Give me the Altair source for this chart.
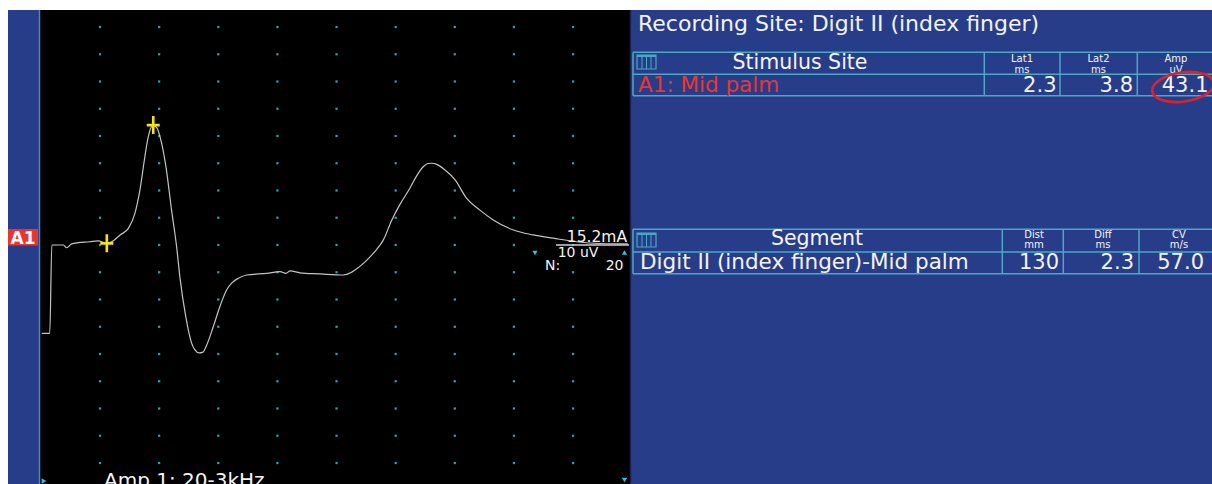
import altair as alt
import pandas as pd

# ---------------- data ----------------
# nerve action potential trace: time (ms) and amplitude (uV)
trace_t = [0.03, 0.30, 0.37, 0.76, 0.87, 1.04, 1.66, 1.93, 2.23, 2.44,
           2.68, 2.96, 3.18, 3.35, 3.50, 3.63, 3.80, 3.93, 4.03, 4.23,
           4.42, 4.59, 4.70, 4.90, 5.10, 5.21, 5.35, 5.48, 5.61, 5.83,
           6.06, 6.28, 6.46, 6.68, 6.96, 7.64, 8.09, 8.29, 8.43, 8.76,
           9.44, 10.23, 10.85, 11.19, 11.36, 11.58, 11.87, 12.15, 12.48, 12.69,
           12.93, 13.09, 13.22, 13.39, 13.67, 14.01, 14.40, 14.85, 15.30, 15.98,
           16.65, 17.33, 18.12, 18.91, 19.86]
trace_v = [-32.4, -32.4, 0.0, 0.0, -1.0, 0.4, 1.2, 1.5, 0.6, 1.5,
           3.7, 6.1, 11.6, 20.2, 31.2, 39.7, 44.0, 42.9, 39.7, 28.7,
           12.8, -0.6, -11.6, -26.3, -36.1, -38.5, -39.6, -39.3, -36.7, -30.0,
           -22.4, -16.5, -13.9, -12.2, -11.0, -10.4, -9.8, -10.4, -9.5, -10.2,
           -10.6, -11.0, -7.3, -3.7, -1.6, 1.8, 9.2, 15.0, 20.8, 25.0,
           28.7, 29.9, 30.0, 29.6, 27.5, 23.9, 17.1, 12.8, 9.2, 5.5,
           3.7, 2.5, 1.2, 0.55, 0.4]

# latency cursors (onset, peak)
cursor_t = [2.23, 3.80]
cursor_v = [0.6, 44.0]

# dotted grid: 2 ms / division, 10 uV / division
grid_t = [2, 4, 6, 8, 10, 12, 14, 16, 18]
grid_v = [-80, -70, -60, -50, -40, -30, -20, -10, 0, 10, 20, 30, 40, 50, 60, 70, 80]

title_text = "Recording Site:  Digit II (index finger)"
t1_header = ["Stimulus Site", "Lat1\nms", "Lat2\nms", "Amp\nuV"]
t1_row = ["A1: Mid palm", "2.3", "3.8", "43.1"]
t2_header = ["Segment", "Dist\nmm", "Diff\nms", "CV\nm/s"]
t2_row = ["Digit II (index finger)-Mid palm", "130", "2.3", "57.0"]
trace_labels = ["15.2mA", "10 uV", "N:", "20", "Amp 1: 20-3kHz", "A1"]

# ---------------- styling ----------------
FONT = "DejaVu Sans"
BLUE = "#283d8a"
LINE = "#4aa8c6"
TEAL = "#2aa3ab"
RED = "#e8362f"
YELLOW = "#f2e41c"
WHITE = "#f4f4f4"

one = pd.DataFrame({"k": [0]})
xs = alt.Scale(domain=[0, 20], range=[40.9, 632.2], nice=False, zero=False)
ys = alt.Scale(domain=[-90, 90], range=[490.25, -0.25], nice=False, zero=False)

layers = []


def box(x, x2, y, y2, color):
    layers.append(alt.Chart(one).mark_rect(color=color, opacity=1).encode(
        x=alt.value(x), x2=alt.value(x2), y=alt.value(y), y2=alt.value(y2)))


def hline(x, x2, y, color=LINE, w=1.5):
    layers.append(alt.Chart(one).mark_rule(color=color, strokeWidth=w).encode(
        x=alt.value(x), x2=alt.value(x2), y=alt.value(y)))


def vline(x, y, y2, color=LINE, w=1.5):
    layers.append(alt.Chart(one).mark_rule(color=color, strokeWidth=w).encode(
        x=alt.value(x), y=alt.value(y), y2=alt.value(y2)))


def label(text, x, y, size, color=WHITE, align="left", weight="normal", lh=None):
    kw = dict(align=align, baseline="alphabetic", font=FONT, fontSize=size,
              fontWeight=weight, color=color)
    if lh is not None:
        kw.update(lineBreak="\n", lineHeight=lh)
    layers.append(alt.Chart(pd.DataFrame({"label": [text]})).mark_text(**kw).encode(
        text="label:N", x=alt.value(x), y=alt.value(y)))


def symbol(shape, x, y, size, color, filled=True, w=1.0, angle=0):
    kw = dict(shape=shape, size=size, opacity=1, angle=angle)
    if filled:
        kw.update(filled=True, color=color)
    else:
        kw.update(filled=False, stroke=color, strokeWidth=w, fill=None)
    layers.append(alt.Chart(one).mark_point(**kw).encode(
        x=alt.value(x), y=alt.value(y)))


def icon(x, y):
    layers.append(alt.Chart(one).mark_rect(fill=None, stroke=LINE, strokeWidth=1.2).encode(
        x=alt.value(x), x2=alt.value(x + 19), y=alt.value(y), y2=alt.value(y + 14)))
    hline(x, x + 19, y + 1, LINE, 2)
    for dx in (5, 9.5, 14):
        vline(x + dx, y, y + 14, LINE, 1)


# ---------------- panels ----------------
box(8, 39, 10, 484, BLUE)
box(40, 630, 10, 484, "#000000")
box(630, 1212, 10, 484, BLUE)
vline(39.5, 10, 484, "#3a90bb", 1.5)
vline(630.5, 10, 484, "#1b2450", 1.5)

# grid dots
grid = pd.DataFrame([(t, v) for t in grid_t for v in grid_v], columns=["t", "v"])
layers.append(alt.Chart(grid).mark_square(size=5, color=TEAL, opacity=1).encode(
    x=alt.X("t:Q", scale=xs, axis=None), y=alt.Y("v:Q", scale=ys, axis=None)))

# trace
trace = pd.DataFrame({"t": trace_t, "v": trace_v})
layers.append(alt.Chart(trace).mark_line(color="#c4c4c4", strokeWidth=1.2,
                                         interpolate="monotone").encode(
    x=alt.X("t:Q", scale=xs, axis=None), y=alt.Y("v:Q", scale=ys, axis=None),
    order="t:Q"))

# cursors
cursors = pd.DataFrame({"t": cursor_t, "v": cursor_v})
layers.append(alt.Chart(cursors).mark_point(
    shape="M -0.72 0 L 0.72 0 M 0 -1 L 0 1", size=324, filled=False,
    stroke=YELLOW, strokeWidth=2.6, opacity=1).encode(
    x=alt.X("t:Q", scale=xs, axis=None), y=alt.Y("v:Q", scale=ys, axis=None)))

# labels inside trace area
label(trace_labels[0], 627, 242, 15.5, align="right")
hline(556, 629, 245, "#d0d0d0", 1.3)
label(trace_labels[1], 578, 257.3, 14, align="center")
symbol("triangle-down", 535, 253, 28, "#3bbbe0")
symbol("triangle-up", 624.5, 252.5, 28, "#3bbbe0")
label(trace_labels[2], 545, 270.3, 14)
label(trace_labels[3], 623.5, 270.3, 14, align="right")
label(trace_labels[4], 104, 487, 20)
symbol("triangle-right", 44, 481, 30, "#3bbbe0")
symbol("triangle-down", 624.5, 480, 30, "#3bbbe0")

# A1 channel tag
box(8, 38, 229, 245.5, RED)
label(trace_labels[5], 23, 243.5, 17, color="white", align="center", weight="bold")

# ---------------- right panel ----------------
label(title_text, 638, 31, 22)

# table 1
hline(633, 1212, 52.3)
hline(633, 1212, 74.3)
hline(633, 1212, 95.7)
vline(633, 52.3, 95.7)
for xv in (984.3, 1060, 1137.3):
    vline(xv, 52.3, 95.7)
icon(637, 55)
label(t1_header[0], 800, 68.5, 20.5, align="center")
for txt, cx in zip(t1_header[1:], (1022, 1098.5, 1176)):
    label(txt, cx, 61.8, 10, align="center", lh=11)
label(t1_row[0], 638, 91.7, 21.5, color=RED)
for txt, rx in zip(t1_row[1:], (1056.5, 1133, 1208.5)):
    label(txt, rx, 91.7, 21, align="right")
symbol("M -1 0 A 1 0.47 0 1 1 1 0 A 1 0.47 0 1 1 -1 0 Z", 1183, 87, 62 * 62,
       "#e0202a", filled=False, w=2.6, angle=352)

# table 2
hline(633, 1212, 229.3)
hline(633, 1212, 252)
hline(633, 1212, 273.7)
vline(633, 229.3, 273.7)
for xv in (1002.3, 1063.3, 1139):
    vline(xv, 229.3, 273.7)
icon(637, 233)
label(t2_header[0], 817, 245.4, 20.5, align="center")
for txt, cx in zip(t2_header[1:], (1034, 1103, 1179)):
    label(txt, cx, 237.6, 10, align="center", lh=10.8)
label(t2_row[0], 640, 269, 21.5)
for txt, rx in zip(t2_row[1:], (1059, 1134, 1204)):
    label(txt, rx, 269, 21, align="right")

chart = alt.layer(*layers).properties(
    width=1212, height=484, background="white", padding=0, autosize="none"
).configure_view(stroke=None)

chart.save("out.html", embed_options={"renderer": "svg", "actions": False})
